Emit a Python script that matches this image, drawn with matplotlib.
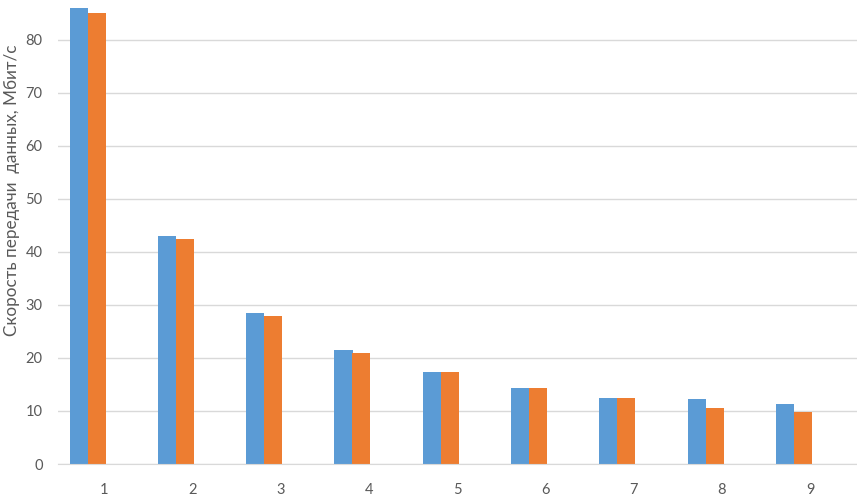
import numpy as np
from matplotlib import pyplot as plt

# Data
categories = [1, 2, 3, 4, 5, 6, 7, 8, 9]
series_blue = [86.0, 43.0, 28.5, 21.5, 17.3, 14.4, 12.4, 12.2, 11.4]
series_orange = [85.0, 42.5, 27.9, 20.9, 17.3, 14.4, 12.4, 10.5, 9.8]
y_ticks = [0, 10, 20, 30, 40, 50, 60, 70, 80]
y_label = 'Скорость передачи  данных, Мбит/с'

color_blue = '#5B9BD5'
color_orange = '#ED7D31'
text_color = '#595959'
grid_color = '#D9D9D9'

plt.rcParams['font.family'] = ['Lato', 'DejaVu Sans']

fig = plt.figure(figsize=(8.57, 4.98), dpi=100)
ax = fig.add_axes([58 / 857, 34 / 498, 1 - 58 / 857, 464 / 498])

x = np.array(categories, dtype=float)
width = 0.205
# bars sit to the left of the category label in the original
ax.bar(x - 0.286, series_blue, width=width, color=color_blue, zorder=3)
ax.bar(x - 0.083, series_orange, width=width, color=color_orange, zorder=3)

ax.set_xlim(0.48, 9.53)
ax.set_ylim(0, 87.5)
ax.set_xticks(x)
ax.set_xticklabels([str(c) for c in categories])
ax.set_yticks(y_ticks)

ax.grid(axis='y', color=grid_color, linewidth=1, zorder=0)
for side in ['top', 'right', 'left']:
    ax.spines[side].set_visible(False)
ax.spines['bottom'].set_color(grid_color)
ax.spines['bottom'].set_zorder(4)

ax.tick_params(axis='both', length=0, colors=text_color, labelsize=10.5)
ax.tick_params(axis='x', pad=14)
ax.tick_params(axis='y', pad=11)

# y label placed in figure coords so it is not cut at the left edge
fig.text(12 / 857, (498 - 190) / 498, y_label, rotation=90, color=text_color,
         fontsize=12.3, ha='center', va='center')

fig.savefig('out.png', dpi=100)
